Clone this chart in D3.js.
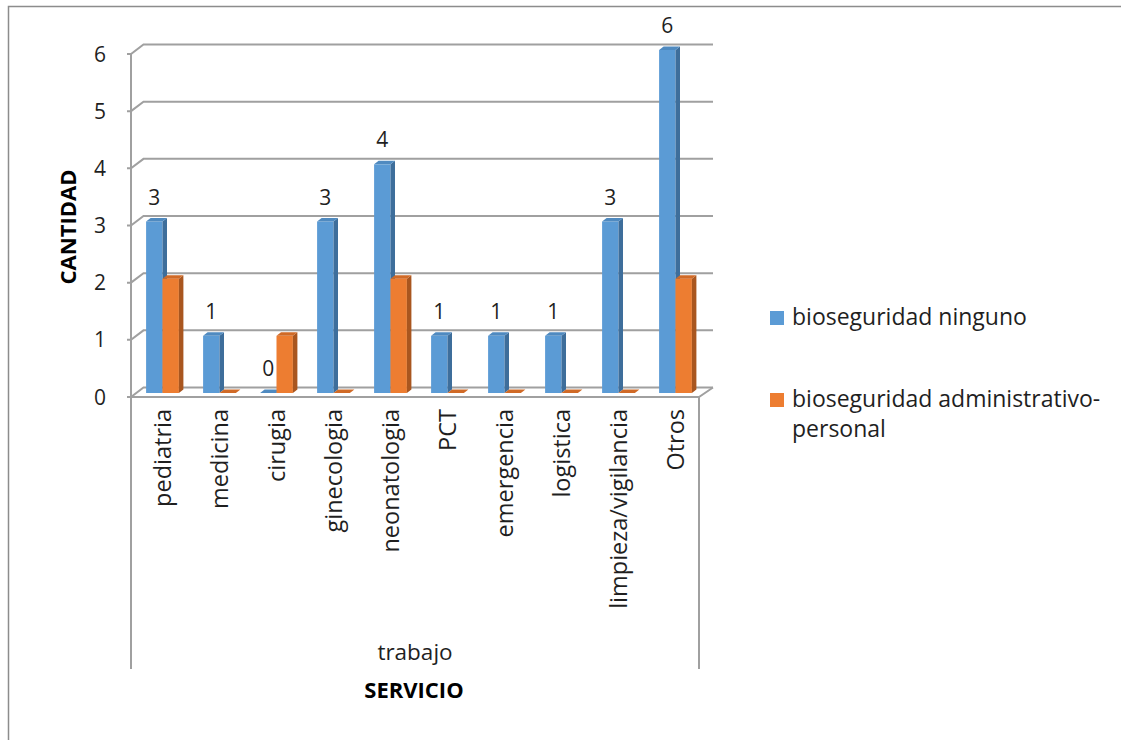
<!DOCTYPE html>
<html>
<head>
<meta charset="utf-8">
<script src="https://cdn.jsdelivr.net/npm/d3@7/dist/d3.min.js"></script>
<style>
  html, body { margin: 0; padding: 0; background: #fff; }
  svg { display: block; font-family: "Open Sans", "Noto Sans", sans-serif; }
</style>
</head>
<body>
<svg id="chart" width="1121" height="740"></svg>
<script>
// Servicios y cantidades por tipo de bioseguridad
const categories = ["pediatria", "medicina", "cirugia", "ginecologia", "neonatologia",
                    "PCT", "emergencia", "logistica", "limpieza/vigilancia", "Otros"];
const ninguno = [3, 1, 0, 3, 4, 1, 1, 1, 3, 6];
const administrativo = [2, 0, 1, 0, 2, 0, 0, 0, 0, 2];
const seriesNames = ["bioseguridad ninguno", "bioseguridad administrativo-personal"];
const yTicks = [0, 1, 2, 3, 4, 5, 6];

const svg = d3.select("#chart");
const W = 1121, H = 740;

const colors = {
  blue:   { front: "#5B9BD5", side: "#3E6E9B", top: "#4F8AC0" },
  orange: { front: "#ED7D31", side: "#A9561F", top: "#D06A27" }
};
const gridColor = "#A0A0A0";
const textColor = "#1f1f1f";

// Outer chart frame (left and top edges)
svg.append("path")
  .attr("d", `M8.5,${H} V6.5 H${W}`)
  .attr("fill", "none").attr("stroke", "#8c8c8c").attr("stroke-width", 1.5);

// Plot geometry
const frontLeft = 131, frontRight = 699;
const wallDx = 12.5, wallDy = -9.5;     // depth offset of the back wall
const barDx = 4.5, barDy = -3.5;        // depth of each bar

const x = d3.scaleBand().domain(categories).range([134, 704]).paddingInner(0).paddingOuter(0);
const yFront = d3.scaleLinear().domain([0, 6]).range([397, 54]);  // front axis / gridlines
const yBar = d3.scaleLinear().domain([0, 6]).range([393, 50]);    // bar faces (mid-depth)

const g = svg.append("g");

// Back wall gridlines with their diagonal connectors and axis ticks
yTicks.forEach(t => {
  const yf = yFront(t);
  g.append("path")
    .attr("d", `M127,${yf} H${frontLeft} L${frontLeft + wallDx},${yf + wallDy} H713`)
    .attr("fill", "none").attr("stroke", gridColor).attr("stroke-width", 2);
});

// Floor: front edge, right side edge
g.append("path")
  .attr("d", `M${frontLeft},${yFront(0)} H${frontRight} L${713},${yFront(0) + wallDy}`)
  .attr("fill", "none").attr("stroke", gridColor).attr("stroke-width", 2);

// Front value axis line continued as the category box edges
g.append("line")
  .attr("x1", frontLeft).attr("x2", frontLeft)
  .attr("y1", yFront(6)).attr("y2", 669)
  .attr("stroke", gridColor).attr("stroke-width", 2);
g.append("line")
  .attr("x1", frontRight).attr("x2", frontRight)
  .attr("y1", yFront(0)).attr("y2", 669)
  .attr("stroke", gridColor).attr("stroke-width", 2);

// Y tick labels
g.selectAll(".ytick").data(yTicks).enter().append("text")
  .attr("x", 106).attr("y", d => yFront(d))
  .attr("dy", "0.36em")
  .attr("text-anchor", "end")
  .attr("font-size", 21).attr("fill", textColor)
  .text(d => d);

// 3D bar drawing
const barW = 16.4;
function drawBar(parent, x0, v, c) {
  const base = yBar(0), top = yBar(v);
  const bar = parent.append("g");
  if (v > 0) {
    bar.append("rect")
      .attr("x", x0).attr("y", top).attr("width", barW).attr("height", base - top)
      .attr("fill", c.front);
    bar.append("path")
      .attr("d", `M${x0 + barW},${top} L${x0 + barW + barDx},${top + barDy} L${x0 + barW + barDx},${base + barDy} L${x0 + barW},${base} Z`)
      .attr("fill", c.side);
  }
  bar.append("path")
    .attr("d", `M${x0},${top} L${x0 + barDx},${top + barDy} L${x0 + barW + barDx},${top + barDy} L${x0 + barW},${top} Z`)
    .attr("fill", c.top);
}

const bars = g.append("g");
categories.forEach((cat, i) => {
  const cx = x(cat) + x.bandwidth() / 2;
  drawBar(bars, cx - barW, ninguno[i], colors.blue);
  drawBar(bars, cx, administrativo[i], colors.orange);
});

// Value labels for the first series
g.selectAll(".vlabel").data(categories).enter().append("text")
  .attr("x", d => x(d) + x.bandwidth() / 2 - barW / 2)
  .attr("y", (d, i) => yBar(ninguno[i]) - 17)
  .attr("text-anchor", "middle")
  .attr("font-size", 21).attr("fill", textColor)
  .text((d, i) => ninguno[i]);

// Category labels, rotated
g.selectAll(".clabel").data(categories).enter().append("text")
  .attr("transform", d => `translate(${x(d) + x.bandwidth() / 2},409) rotate(-90)`)
  .attr("dy", "0.35em")
  .attr("text-anchor", "end")
  .attr("font-size", 23.5).attr("fill", textColor)
  .text(d => d);

// Group label and axis titles
g.append("text")
  .attr("x", 415).attr("y", 660)
  .attr("text-anchor", "middle")
  .attr("font-size", 22.5).attr("fill", textColor)
  .text("trabajo");

g.append("text")
  .attr("x", 414).attr("y", 698)
  .attr("text-anchor", "middle")
  .attr("font-size", 22).attr("font-weight", "bold").attr("fill", "#000")
  .text("SERVICIO");

g.append("text")
  .attr("transform", "translate(68,227) rotate(-90)")
  .attr("dy", "0.36em")
  .attr("text-anchor", "middle")
  .attr("font-size", 22).attr("font-weight", "bold").attr("fill", "#000")
  .text("CANTIDAD");

// Legend
const legend = svg.append("g");
const legendItems = [
  { color: colors.blue.front, lines: ["bioseguridad ninguno"], y: 325 },
  { color: colors.orange.front, lines: ["bioseguridad administrativo-", "personal"], y: 407 }
];
legendItems.forEach(item => {
  legend.append("rect")
    .attr("x", 770).attr("y", item.y - 14).attr("width", 14).attr("height", 14)
    .attr("fill", item.color);
  const t = legend.append("text")
    .attr("x", 792).attr("y", item.y)
    .attr("font-size", 23).attr("fill", textColor);
  item.lines.forEach((ln, j) => {
    t.append("tspan").attr("x", 792).attr("dy", j === 0 ? 0 : 30).text(ln);
  });
});
</script>
</body>
</html>
